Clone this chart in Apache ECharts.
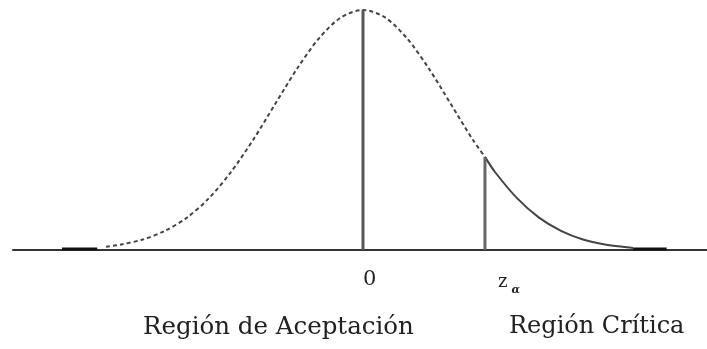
<!DOCTYPE html>
<html>
<head>
<meta charset="utf-8">
<script src="https://cdn.jsdelivr.net/npm/echarts@6/dist/echarts.min.js"></script>
<style>
  html, body { margin: 0; padding: 0; background: #fff; }
  #chart { width: 707px; height: 349px; }
</style>
</head>
<body>
<div id="chart"></div>
<script>
// curva normal (x en unidades de sigma, altura relativa al pico)
const dashX = [-2.92, -2.75, -2.5, -2.25, -2.0, -1.75, -1.5, -1.25, -1.0, -0.75, -0.5, -0.25, 0, 0.25, 0.5, 0.75, 1.0, 1.25, 1.386]
const dashY = [0.014, 0.023, 0.044, 0.080, 0.135, 0.216, 0.325, 0.458, 0.607, 0.755, 0.882, 0.969, 1, 0.969, 0.882, 0.755, 0.607, 0.458, 0.388]
const solidX = [1.386, 1.5, 1.75, 2.0, 2.25, 2.5, 2.75, 3.0, 3.07]
const solidY = [0.388, 0.325, 0.216, 0.135, 0.080, 0.044, 0.023, 0.011, 0.008]
// trozos gruesos de las colas sobre el eje
const tailLeftX = [-3.42, -3.02]
const tailRightX = [3.07, 3.45]
const tailY = [0.004, 0.004]
// valor critico
const zAlpha = 1.386
const zAlphaHeight = 0.388
const tickValues = [0, zAlpha]

const pairs = (xs, ys) => xs.map((x, i) => [x, ys[i]])

const chart = echarts.init(document.getElementById('chart'))

const option = {
  animation: false,
  backgroundColor: '#fff',
  grid: { left: 13, right: 0, top: 10, bottom: 99 },
  xAxis: {
    type: 'value',
    min: -3.977,
    max: 3.909,
    axisLine: { show: true, onZero: false, lineStyle: { color: '#333', width: 2 } },
    axisTick: { show: false },
    splitLine: { show: false },
    axisLabel: {
      customValues: tickValues,
      align: 'left',
      margin: 19,
      formatter: (v) => (v === 0 ? '{o|0}' : '{z|z}{a|α}'),
      rich: {
        o: { fontFamily: 'DejaVu Serif', fontSize: 21, color: '#222' },
        z: { fontFamily: 'DejaVu Serif', fontSize: 18, color: '#222', padding: [0, 0, 0, 13] },
        a: { fontFamily: 'DejaVu Serif', fontSize: 11, fontStyle: 'italic', fontWeight: 'bold', color: '#222', padding: [16, 0, 0, 4] },
      },
    },
  },
  yAxis: { type: 'value', min: 0, max: 1, show: false },
  series: [
    {
      type: 'line',
      data: pairs(dashX, dashY),
      smooth: 0.3,
      symbol: 'none',
      lineStyle: { color: '#444', width: 2, type: [4, 3] },
    },
    {
      type: 'line',
      data: pairs(solidX, solidY),
      smooth: 0.3,
      symbol: 'none',
      lineStyle: { color: '#444', width: 2 },
    },
    {
      type: 'line',
      data: pairs(tailLeftX, tailY),
      symbol: 'none',
      lineStyle: { color: '#111', width: 3 },
    },
    {
      type: 'line',
      data: pairs(tailRightX, tailY),
      symbol: 'none',
      lineStyle: { color: '#111', width: 3 },
    },
    {
      type: 'line',
      data: [[0, 0], [0, 1]],
      symbol: 'none',
      lineStyle: { color: '#555', width: 3 },
    },
    {
      type: 'line',
      data: [[zAlpha, 0], [zAlpha, zAlphaHeight]],
      symbol: 'none',
      lineStyle: { color: '#666', width: 3 },
    },
  ],
  graphic: [
    {
      type: 'text',
      left: 143,
      top: 315,
      style: { text: 'Región de Aceptación', fontFamily: 'DejaVu Serif', fontSize: 24.5, fill: '#222' },
    },
    {
      type: 'text',
      left: 509,
      top: 315,
      style: { text: 'Región Crítica', fontFamily: 'DejaVu Serif', fontSize: 24, fill: '#222' },
    },
  ],
}

chart.setOption(option)
</script>
</body>
</html>
